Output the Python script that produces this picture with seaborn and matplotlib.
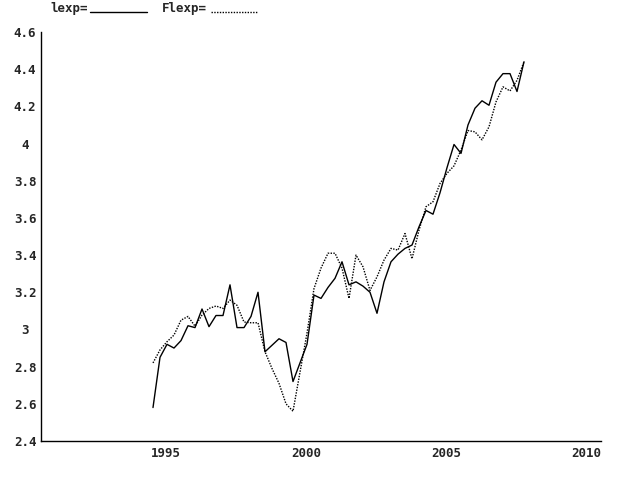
import numpy as np
import pandas as pd
import matplotlib
matplotlib.use("Agg")
import matplotlib.pyplot as plt
from matplotlib.lines import Line2D
from matplotlib.ticker import MultipleLocator, FuncFormatter
import seaborn as sns

# quarterly time axis, 1994Q1 .. 2007Q2
years = np.arange(1994.0, 2007.5, 0.25)

lexp = [2.58, 2.85, 2.92, 2.90, 2.94, 3.02, 3.01, 3.11, 3.015, 3.075,
        3.075, 3.24, 3.01, 3.01, 3.07, 3.20, 2.88, 2.915, 2.95, 2.93,
        2.72, 2.82, 2.92, 3.185, 3.167, 3.226, 3.275, 3.364, 3.24, 3.256,
        3.233, 3.20, 3.087, 3.256, 3.364, 3.405, 3.436, 3.454, 3.552, 3.64,
        3.62, 3.735, 3.87, 3.995, 3.947, 4.10, 4.19, 4.23, 4.206, 4.33,
        4.376, 4.376, 4.28, 4.44]

flexp = [2.82, 2.89, 2.934, 2.97, 3.05, 3.07, 3.018, 3.077, 3.113, 3.126,
         3.113, 3.158, 3.13, 3.04, 3.036, 3.036, 2.88, 2.79, 2.71, 2.60,
         2.56, 2.77, 2.98, 3.22, 3.33, 3.41, 3.41, 3.33, 3.167, 3.40,
         3.337, 3.21, 3.283, 3.373, 3.436, 3.427, 3.516, 3.38, 3.534, 3.66,
         3.687, 3.785, 3.84, 3.88, 3.965, 4.07, 4.063, 4.02, 4.09, 4.224,
         4.305, 4.283, 4.34, 4.44]

df = pd.DataFrame({"year": years, "lexp": lexp, "Flexp": flexp})

sns.set_style("white")
plt.rcParams["font.family"] = ["DejaVu Sans Mono"]
plt.rcParams["font.weight"] = "bold"

fig = plt.figure(figsize=(6.4, 4.8), dpi=100)
ax = fig.add_axes([41 / 640, 39 / 480, 560 / 640, 409 / 480])

sns.lineplot(data=df, x="year", y="lexp", ax=ax, color="black", linewidth=1.0)
sns.lineplot(data=df, x="year", y="Flexp", ax=ax, color="black", linewidth=1.0,
             linestyle=(0, (1, 1)))

ax.set_xlim(1990, 2010)
ax.set_ylim(2.4, 4.6)
ax.set_xlabel("")
ax.set_ylabel("")

ax.set_xticks([1995, 2000, 2005, 2010])
ax.xaxis.set_minor_locator(MultipleLocator(1))
ax.yaxis.set_major_locator(MultipleLocator(0.2))
ax.yaxis.set_minor_locator(MultipleLocator(0.1))
ax.yaxis.set_major_formatter(FuncFormatter(lambda v, p: f"{round(v, 1):g}"))

for s in ["top", "right"]:
    ax.spines[s].set_visible(False)
for s in ["left", "bottom"]:
    ax.spines[s].set_color("black")
    ax.spines[s].set_linewidth(1.0)

ax.tick_params(axis="both", which="both", direction="in", color="black",
               width=1.0, labelsize=9)
ax.tick_params(axis="x", which="major", length=3.0, pad=4)
ax.tick_params(axis="x", which="minor", length=1.8)
ax.tick_params(axis="y", which="major", length=3.6, pad=11.5)
ax.tick_params(axis="y", which="minor", length=2.2)
for lab in ax.get_xticklabels():
    lab.set_ha("right")
for lab in ax.get_yticklabels():
    lab.set_ha("center")

# legend strip along the top
fig.text(50 / 640, 1 - 12 / 480, "lexp=", fontsize=9, fontweight="bold",
         va="baseline", ha="left")
fig.add_artist(Line2D([90 / 640, 147 / 640], [1 - 12 / 480] * 2,
                      color="black", linewidth=1.0))
fig.text(162 / 640, 1 - 12 / 480, "Flexp=", fontsize=9, fontweight="bold",
         va="baseline", ha="left")
fig.add_artist(Line2D([211 / 640, 258 / 640], [1 - 12 / 480] * 2,
                      color="black", linewidth=1.0, linestyle=(0, (1, 1))))

fig.savefig("out.png", dpi=100)
